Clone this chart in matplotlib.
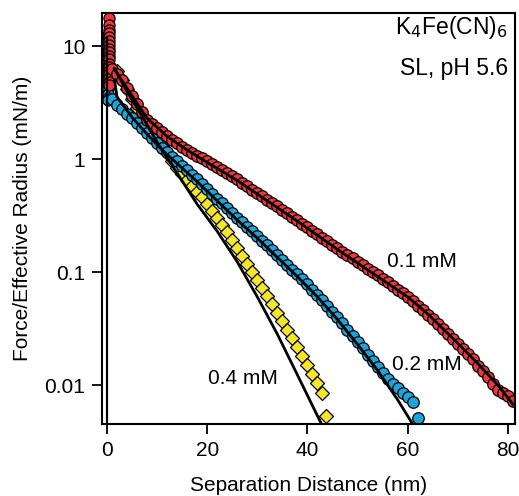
import matplotlib
matplotlib.use('Agg')
import matplotlib.pyplot as plt
import numpy as np

plt.rcParams['font.family'] = ['Liberation Sans', 'DejaVu Sans']

# ---- data (log10 of force/radius) ----
# 0.1 mM, red circles
red_x = list(range(1, 82))
red_log = [0.80, 0.755, 0.70, 0.63, 0.56, 0.488, 0.417, 0.345, 0.309, 0.273,
           0.236, 0.20, 0.17, 0.14, 0.11, 0.08, 0.055, 0.03, 0.005, -0.02,
           -0.047, -0.073, -0.10, -0.127, -0.153, -0.18, -0.21, -0.24, -0.27, -0.30,
           -0.33, -0.36, -0.39, -0.42, -0.45, -0.48, -0.51, -0.54, -0.571, -0.603,
           -0.634, -0.665, -0.696, -0.728, -0.759, -0.79, -0.82, -0.85, -0.88, -0.91,
           -0.94, -0.97, -1.00, -1.03, -1.06, -1.09, -1.12, -1.155, -1.19, -1.225,
           -1.26, -1.30, -1.34, -1.38, -1.42, -1.46, -1.50, -1.545, -1.59, -1.635,
           -1.68, -1.725, -1.77, -1.83, -1.88, -1.93, -1.99, -2.04, -2.07, -2.10, -2.14]
red_wall_y = [17.7, 15.5, 14.0, 13.0, 12.0, 11.0, 10.2, 9.5, 8.8, 8.2, 7.6,
              7.0, 6.5, 6.0, 5.6, 5.2, 4.8, 4.5]

# 0.2 mM, blue circles
blue_x = list(range(1, 63))
blue_log = [0.53, 0.48, 0.44, 0.40, 0.36, 0.317, 0.273, 0.23, 0.187, 0.143,
            0.10, 0.06, 0.02, -0.02, -0.06, -0.10, -0.14, -0.18, -0.22, -0.265,
            -0.307, -0.35, -0.392, -0.435, -0.478, -0.52, -0.56, -0.60, -0.64, -0.68,
            -0.723, -0.765, -0.808, -0.85, -0.893, -0.935, -0.978, -1.02, -1.065, -1.11,
            -1.155, -1.20, -1.25, -1.30, -1.35, -1.40, -1.455, -1.51, -1.565, -1.62,
            -1.675, -1.73, -1.785, -1.84, -1.89, -1.95, -1.99, -2.03, -2.07, -2.11,
            -2.15, -2.29]
blue_wall_y = [12.5, 11.0, 9.8, 8.8, 8.0, 7.2, 6.5, 5.8, 5.2, 4.7, 4.2, 3.8, 3.5, 3.3]

# 0.4 mM, yellow diamonds
yellow_x = list(range(2, 44)) + [43.8]
yellow_log = [0.78, 0.70, 0.62, 0.535, 0.45, 0.375, 0.30, 0.24, 0.18, 0.115,
              0.05, -0.015, -0.08, -0.135, -0.19, -0.24, -0.29, -0.34, -0.40, -0.46,
              -0.52, -0.585, -0.65, -0.72, -0.79, -0.86, -0.93, -1.00, -1.07, -1.14,
              -1.21, -1.285, -1.36, -1.435, -1.51, -1.585, -1.66, -1.74, -1.82, -1.90,
              -1.98, -2.07, -2.27]

# theory fits (black lines)
red_fit_x = [1.5, 2, 5, 8, 12, 16, 20, 26, 32, 38, 46, 54, 60, 64, 70, 74, 78, 81]
red_fit_log = [0.80, 0.76, 0.56, 0.36, 0.20, 0.08, -0.03, -0.19, -0.37, -0.55,
               -0.80, -1.04, -1.22, -1.37, -1.63, -1.81, -2.00, -2.17]
blue_fit_x = [1.5, 2, 5, 8, 11, 14.5, 18, 22, 26, 30, 34, 38, 42, 46, 50, 54, 58, 61]
blue_fit_log = [0.70, 0.55, 0.37, 0.22, 0.08, -0.06, -0.20, -0.37, -0.54, -0.70,
                -0.87, -1.04, -1.22, -1.42, -1.64, -1.87, -2.13, -2.345]
yellow_fit_x = [1.5, 4, 7, 10, 14.5, 18, 22, 26, 30, 34, 38, 42.8]
yellow_fit_log = [0.80, 0.60, 0.38, 0.15, -0.16, -0.40, -0.64, -0.91, -1.22, -1.55,
                  -1.91, -2.345]

red_c = '#e8383d'
blue_c = '#1fa3d8'
yellow_c = '#f5e62c'

fig = plt.figure(figsize=(5.19, 4.96), dpi=100)
ax = fig.add_axes([0.1965, 0.1452, 0.7955, 0.8286])

mk = dict(markeredgecolor='black', markeredgewidth=0.9, linestyle='none')

# near-wall columns
ax.plot([0.3] * len(blue_wall_y), blue_wall_y, 'o', color=blue_c, markersize=8, **mk)
ax.plot([0.5] * len(red_wall_y), red_wall_y, 'o', color=red_c, markersize=8, **mk)

ax.plot(yellow_x, 10 ** np.array(yellow_log), 'D', color=yellow_c, markersize=7, **mk)
ax.plot(blue_x, 10 ** np.array(blue_log), 'o', color=blue_c, markersize=8.3, **mk)
ax.plot(red_x, 10 ** np.array(red_log), 'o', color=red_c, markersize=8.3, **mk)

# hard wall + fits
ax.plot([0, 0], [1e-3, 12], color='black', lw=1.6)
for fx, fl in [(red_fit_x, red_fit_log), (blue_fit_x, blue_fit_log),
               (yellow_fit_x, yellow_fit_log)]:
    ax.plot(fx, 10 ** np.array(fl), color='black', lw=2)

ax.set_yscale('log')
ax.set_xlim(-1.0, 81.4)
ax.set_ylim(0.00452, 19.6)
ax.set_xticks([0, 20, 40, 60, 80])
ax.set_yticks([0.01, 0.1, 1, 10])
ax.set_yticklabels(['0.01', '0.1', '1', '10'])
ax.yaxis.set_minor_locator(matplotlib.ticker.NullLocator())
ax.tick_params(direction='out', length=7, width=1.3, labelsize=15, pad=5)
for s in ax.spines.values():
    s.set_linewidth(1.5)

ax.set_xlabel('Separation Distance (nm)', fontsize=15, labelpad=12)
ax.set_ylabel('Force/Effective Radius (mN/m)', fontsize=15, labelpad=9)

ax.text(80.0, 10 ** 1.16, r'K$_4$Fe(CN)$_6$', ha='right', va='center', fontsize=16.5)
ax.text(80.0, 10 ** 0.80, 'SL, pH 5.6', ha='right', va='center', fontsize=16.5)
ax.text(55.8, 10 ** -0.91, '0.1 mM', ha='left', va='center', fontsize=15)
ax.text(56.8, 10 ** -1.82, '0.2 mM', ha='left', va='center', fontsize=15)
ax.text(20.2, 10 ** -1.94, '0.4 mM', ha='left', va='center', fontsize=15)

fig.savefig('out.png', dpi=100)
